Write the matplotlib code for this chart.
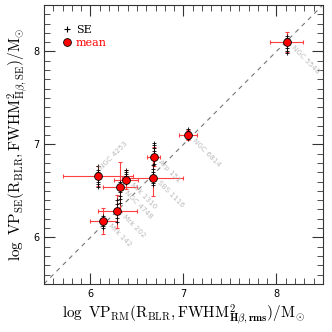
# SE vs RM virial products, one column of SE points per AGN plus the mean
import matplotlib
matplotlib.use('Agg')
import matplotlib.pyplot as plt
from matplotlib.lines import Line2D
from matplotlib.ticker import MultipleLocator

plt.rcParams['mathtext.fontset'] = 'cm'
plt.rcParams['font.family'] = 'DejaVu Serif'

# 1. Data
names = ['NGC 4253', 'Mrk 1310', 'NGC 4748', 'Mrk 202', 'Mrk 142',
         'Arp 151', 'SBS 1116', 'NGC 6814', 'NGC 5548']
vp_rm = [6.08, 6.38, 6.32, 6.29, 6.14, 6.68, 6.67, 7.05, 8.11]
vp_mean = [6.66, 6.62, 6.54, 6.28, 6.18, 6.87, 6.64, 7.10, 8.10]
rm_err = [0.38, 0.13, 0.18, 0.21, 0.15, 0.07, 0.33, 0.10, 0.18]
mean_err = [0.11, 0.10, 0.27, 0.18, 0.14, 0.10, 0.20, 0.05, 0.11]

# individual single-epoch values
vp_se = [
    [6.77, 6.73, 6.70, 6.69, 6.66, 6.63, 6.60, 6.57, 6.54],
    [6.73, 6.70, 6.68, 6.66, 6.63, 6.60, 6.58],
    [6.60, 6.57, 6.52, 6.49, 6.45, 6.41, 6.37],
    [6.40, 6.36, 6.32, 6.29, 6.25, 6.21, 6.17],
    [6.23, 6.20, 6.18, 6.15, 6.12, 6.10],
    [7.02, 6.99, 6.96, 6.93, 6.90, 6.86, 6.83, 6.79],
    [6.78, 6.74, 6.70, 6.66, 6.62, 6.59, 6.56],
    [7.17, 7.14, 7.12, 7.10, 7.08, 7.06],
    [8.17, 8.14, 8.12, 8.10, 8.07, 8.04, 8.01, 7.98],
]

# labels that go up-right instead of down-right
up_labels = ['NGC 4253']

# 2. Plot
fig = plt.figure(figsize=(3.32, 3.32), dpi=100)
ax = fig.add_axes([0.1325, 0.145, 0.84, 0.84])

ax.plot([5.5, 8.5], [5.5, 8.5], color='#777777', ls=(0, (4, 4)), lw=0.8, zorder=1)

for xv, ys in zip(vp_rm, vp_se):
    ax.plot([xv] * len(ys), ys, ls='none', marker='+', color='black',
            ms=3.2, mew=0.6, zorder=3)

ax.errorbar(vp_rm, vp_mean, xerr=rm_err, yerr=mean_err, fmt='none',
            ecolor='#ff4040', elinewidth=0.8, capsize=1.5, capthick=0.8, zorder=2)
ax.plot(vp_rm, vp_mean, ls='none', marker='o', ms=5.6, mfc='red',
        mec='black', mew=0.6, zorder=4)

for name, xv, yv in zip(names, vp_rm, vp_mean):
    if name in up_labels:
        ax.annotate(name, (xv, yv), xytext=(2, 5), textcoords='offset points',
                    rotation=45, rotation_mode='anchor', ha='left', va='center',
                    fontsize=5.2, color='#bbbbbb', family='DejaVu Sans')
    else:
        ax.annotate(name, (xv, yv), xytext=(4, -3), textcoords='offset points',
                    rotation=-45, rotation_mode='anchor', ha='left', va='center',
                    fontsize=5.2, color='#bbbbbb', family='DejaVu Sans')

# 3. Axes
ax.set_xlim(5.5, 8.5)
ax.set_ylim(5.5, 8.5)
ax.xaxis.set_major_locator(MultipleLocator(1))
ax.yaxis.set_major_locator(MultipleLocator(1))
ax.xaxis.set_minor_locator(MultipleLocator(0.1))
ax.yaxis.set_minor_locator(MultipleLocator(0.1))
ax.tick_params(which='both', direction='in', top=True, right=True,
               labelsize=7, color='#333333')
ax.tick_params(which='major', length=8, width=0.8)
ax.tick_params(which='minor', length=4, width=0.6)
for lab in ax.get_xticklabels() + ax.get_yticklabels():
    lab.set_family('DejaVu Sans')
for sp in ax.spines.values():
    sp.set_color('#333333')
    sp.set_linewidth(0.8)

ax.set_xlabel(r'$\log\ \mathrm{VP}_{\rm RM}(\mathrm{R}_{\rm BLR},'
              r'\mathrm{FWHM}^2_{\mathbf{H\beta,rms}})/\mathrm{M}_{\odot}$',
              fontsize=11, labelpad=3)
ax.set_ylabel(r'$\log\ \mathrm{VP}_{\rm SE}(\mathrm{R}_{\rm BLR},'
              r'\mathrm{FWHM}^2_{\mathrm{H}\beta,\rm SE})/\mathrm{M}_{\odot}$',
              fontsize=11, labelpad=2)

# 4. Legend
handles = [
    Line2D([], [], ls='none', marker='+', color='black', ms=5, mew=0.8),
    Line2D([], [], ls='none', marker='o', ms=5.6, mfc='red', mec='black', mew=0.6),
]
leg = ax.legend(handles, ['SE', 'mean'], loc='upper left',
                bbox_to_anchor=(0.03, 0.965), frameon=False, fontsize=8,
                handlelength=0.8, handletextpad=0.4, labelspacing=0.3)
leg.get_texts()[1].set_color('red')

fig.savefig('out.png', dpi=100)
